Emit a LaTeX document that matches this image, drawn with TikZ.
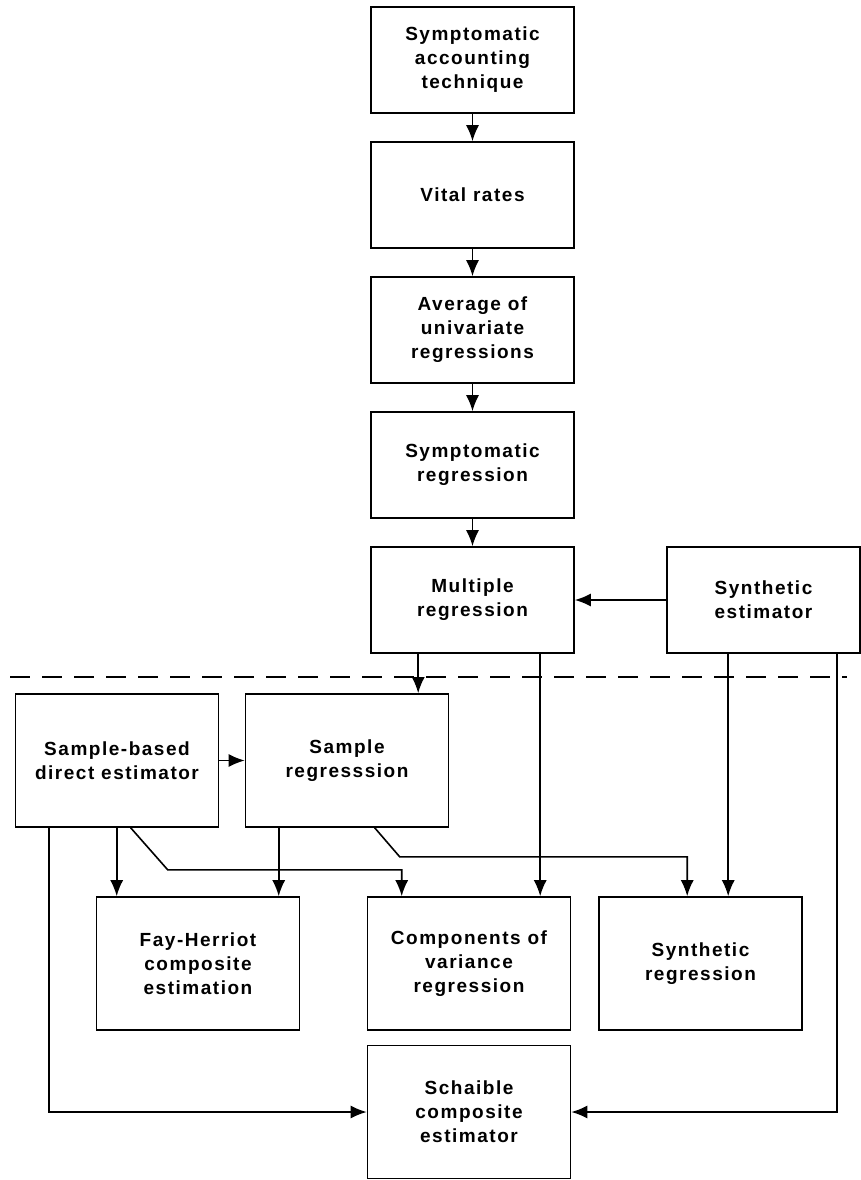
\documentclass[tikz,border=0pt]{standalone}
\usepackage{fontspec}
\newfontfamily\methodfont{Liberation Sans}[LetterSpace=8.0]
\usetikzlibrary{positioning, arrows.meta}
\tikzset{
	method/.style={draw, rectangle, line width=1.6pt, align=center, minimum width=203pt, minimum height=106pt, font=\methodfont\bfseries\fontsize{19}{24}\selectfont},
	estimator/.style={method, minimum height=133pt},
	% separator between the two groups
	divider/.style={line width=1.3pt, dash pattern=on 20pt off 12pt},
}

\begin{document}
\begin{tikzpicture}[x=1pt, y=1pt, node distance=135pt]
	\useasboundingbox (0,0) rectangle (861,-1180);
	
	\node (sat) [method] at (472.5,-60) {Symptomatic\\accounting\\technique};
	\node (vr) [method, below of=sat] {Vital rates};
	\node (aur) [method, below of=vr] {Average of\\univariate\\regressions};
	\node (symr) [method, below of=aur] {Symptomatic\\regression};
	\node (mr) [method, below of=symr] {Multiple\\regression};
	\node (se) [method, minimum width=193pt] at (763.5,-600) {Synthetic\\estimator};
	
	\draw [divider] (10,-677) -- (847,-677);
	
	\node (sbd) [estimator] at (117,-760.5) {Sample-based\\direct estimator};
	\node (sr) [estimator] at (347,-760.5) {Sample\\regresssion};
	\node (fh) [estimator] at (198,-963.5) {Fay-Herriot\\composite\\estimation};
	\node (cv) [estimator] at (469,-963.5) {Components of\\variance\\regression};
	\node (synr) [estimator] at (700.5,-963.5) {Synthetic\\regression};
	\node (sch) [estimator] at (469,-1112) {Schaible\\composite\\estimator};
	
	\coordinate (mra) at ([xshift=48pt]mr.south west);
	\coordinate (mrb) at ([xshift=170pt]mr.south west);
	\coordinate (sea) at ([xshift=62pt]se.south west);
	\coordinate (seb) at ([xshift=171pt]se.south west);
	\coordinate (sbda) at ([xshift=34pt]sbd.south west);
	\coordinate (sbdb) at ([xshift=102pt]sbd.south west);
	\coordinate (sbdc) at ([xshift=116pt]sbd.south west);
	\coordinate (sra) at ([xshift=34pt]sr.south west);
	\coordinate (srb) at ([xshift=130pt]sr.south west);
	
	\begin{scope}[line width=1.6pt, ->, >={Latex[length=16pt, width=13pt]}]
		\draw (sat) -- (vr);
		\draw (vr) -- (aur);
		\draw (aur) -- (symr);
		\draw (symr) -- (mr);
		\draw (se) -- (mr);
		\draw (mra) -- (mra |- sr.north);
		\draw (mrb) -- (mrb |- cv.north);
		\draw (sea) -- (sea |- synr.north);
		\draw (seb) |- (sch.east);
		\draw (sbd) -- (sr);
		\draw (sbda) |- (sch.west);
		\draw (sbdb) -- (sbdb |- fh.north);
		\draw (sbdc) -- ++(37,-42) -| ([xshift=35pt]cv.north west);
		\draw (sra) -- (sra |- fh.north);
		\draw (srb) -- ++(25,-29) -| ([xshift=89pt]synr.north west);
	\end{scope}
\end{tikzpicture}
\end{document}
